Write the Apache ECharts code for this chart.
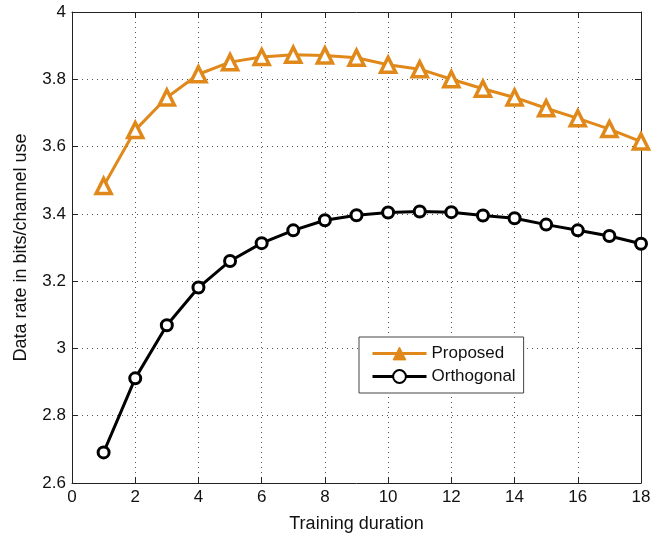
<!DOCTYPE html>
<html><head><meta charset="utf-8">
<script src="https://cdn.jsdelivr.net/npm/echarts@6/dist/echarts.min.js"></script>
<style>html,body{margin:0;padding:0;background:#fff}#c{width:668px;height:540px}</style>
</head><body><div id="c"></div>
<script>
const xValues = [1,2,3,4,5,6,7,8,9,10,11,12,13,14,15,16,17,18];
const proposed = [3.483,3.649,3.746,3.815,3.851,3.866,3.873,3.871,3.864,3.843,3.830,3.800,3.772,3.746,3.714,3.684,3.652,3.615];
const orthogonal = [2.691,2.911,3.069,3.181,3.260,3.313,3.351,3.381,3.396,3.404,3.407,3.405,3.395,3.387,3.368,3.351,3.334,3.311];
const seriesNames = ['Proposed','Orthogonal'];
const font = 'Liberation Sans, Arial, sans-serif';
const chart = echarts.init(document.getElementById('c'), null, {renderer:'canvas'});
const pair = (ys) => xValues.map((x,i)=>[x, ys[i]]);
const gridLine = {show:true, lineStyle:{color:'#555', type:[1,4], width:1}};
const orange = '#E0891A';
chart.setOption({
  animation:false,
  backgroundColor:'#fff',
  grid:{left:72, right:27, top:12, bottom:57, show:false},
  legend:{
    orient:'vertical', left:359, top:337,
    padding:[8,8,8,12], itemGap:6, itemWidth:54, itemHeight:16,
    borderColor:'#444', borderWidth:1, backgroundColor:'#fff',
    textStyle:{fontFamily:font, fontSize:17, color:'#111', lineHeight:16},
    lineStyle:{width:3},
    data:[
      {name:seriesNames[0], itemStyle:{color:orange, borderColor:orange, borderWidth:1}},
      {name:seriesNames[1]}
    ]
  },
  xAxis:[{
    type:'value', min:0, max:18, interval:2, position:'bottom',
    name:'Training duration', nameLocation:'middle', nameGap:32,
    nameTextStyle:{fontFamily:font, fontSize:18, color:'#111'},
    axisLine:{show:true, onZero:false, lineStyle:{color:'#222', width:1}},
    axisTick:{show:true, inside:true, length:6, lineStyle:{color:'#222'}},
    axisLabel:{fontFamily:font, fontSize:17, color:'#111', margin:6},
    splitLine:gridLine
  },{
    type:'value', min:0, max:18, interval:2, position:'top',
    axisLine:{show:true, onZero:false, lineStyle:{color:'#222', width:1}},
    axisTick:{show:true, inside:true, length:6, lineStyle:{color:'#222'}},
    axisLabel:{show:false}, splitLine:{show:false}
  }],
  yAxis:[{
    type:'value', min:2.6, max:4, interval:0.2, position:'left',
    name:'Data rate in bits/channel use', nameLocation:'middle', nameGap:42,
    nameTextStyle:{fontFamily:font, fontSize:18, color:'#111'},
    axisLine:{show:true, onZero:false, lineStyle:{color:'#222', width:1}},
    axisTick:{show:true, inside:true, length:6, lineStyle:{color:'#222'}},
    axisLabel:{fontFamily:font, fontSize:17, color:'#111', margin:6,
      formatter:(v)=>String(Math.round(v*10)/10)},
    splitLine:gridLine
  },{
    type:'value', min:2.6, max:4, interval:0.2, position:'right',
    axisLine:{show:true, onZero:false, lineStyle:{color:'#222', width:1}},
    axisTick:{show:true, inside:true, length:6, lineStyle:{color:'#222'}},
    axisLabel:{show:false}, splitLine:{show:false}
  }],
  series:[{
    name:seriesNames[0], type:'line', data:pair(proposed),
    symbol:'triangle', symbolSize:15,
    lineStyle:{color:orange, width:3},
    itemStyle:{color:'#fff', borderColor:orange, borderWidth:3.5},
    z:3
  },{
    name:seriesNames[1], type:'line', data:pair(orthogonal),
    symbol:'circle', symbolSize:11,
    lineStyle:{color:'#000', width:3},
    itemStyle:{color:'#fff', borderColor:'#000', borderWidth:3},
    z:3
  }]
});
</script></body></html>
